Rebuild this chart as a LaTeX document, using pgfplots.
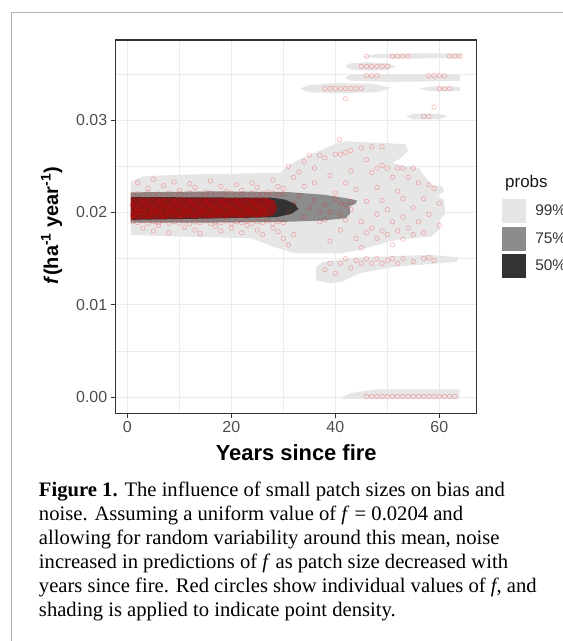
\documentclass[border=0pt]{standalone}
\usepackage{fontspec}
\setmainfont{Liberation Sans}
\newfontfamily\capfont{Liberation Serif}
\usepackage{pgfplots}
\pgfplotsset{compat=1.18}
\definecolor{p99}{HTML}{E6E6E6}
\definecolor{p75}{HTML}{8C8C8C}
\definecolor{p50}{HTML}{333333}
\definecolor{core}{HTML}{8E1515}
\definecolor{gridc}{HTML}{EBEBEB}
\definecolor{tickc}{HTML}{4D4D4D}
\definecolor{framec}{HTML}{B4B4B4}

\begin{document}
\begin{tikzpicture}[x=1bp,y=1bp]
\path[use as bounding box] (0,0) rectangle (563,641);
\draw[framec, line width=1.2bp] (11.7,-2) -- (11.7,628.3) -- (570,628.3);
\begin{axis}[
  at={(115.7bp,227.7bp)}, anchor=south west,
  scale only axis, width=361bp, height=373.3bp,
  xmin=-2.23, xmax=67.2, ymin=-0.00173, ymax=0.03866,
  xtick={0,20,40,60}, xticklabels={0,20,40,60},
  ytick={0,0.01,0.02,0.03}, yticklabels={0.00,0.01,0.02,0.03},
  minor xtick={10,30,50}, minor ytick={0.005,0.015,0.025,0.035},
  scaled y ticks=false,
  grid=both,
  major grid style={gridc, line width=1bp},
  minor grid style={gridc, line width=0.6bp},
  axis line style={p50, line width=1.3bp},
  tick align=outside, tick pos=left,
  major tick length=5bp, minor tick length=0pt,
  tick style={p50, line width=1bp},
  ticklabel style={font=\fontsize{16}{16}\selectfont, text=tickc},
  legend cell align=left,
  legend style={at={(1.0709,0.5733)}, anchor=north west, draw=none, fill=none,
    inner sep=0pt, outer sep=0pt, row sep=3.3bp, column sep=9bp,
    font=\fontsize{15.5}{15.5}\selectfont, text=p50, nodes={inner sep=0pt}},
  legend image code/.code={\fill[#1] (0bp,-12bp) rectangle (24bp,12bp);},
]
% 99% regions
\addplot[fill=p99, draw=none] coordinates {
 (0.69,0.02337) (3.11,0.02391) (10.03,0.02409) (20.4,0.0242) (29.4,0.02428)
 (30.8,0.0250) (32.9,0.02572) (35.6,0.02634) (40.5,0.02754) (42.6,0.02772)
 (44.6,0.02761) (48.8,0.02754) (53.6,0.02736) (54.0,0.02663) (52.2,0.02572)
 (50.9,0.02536) (53.6,0.0250) (56.1,0.02482) (56.7,0.02428) (58.5,0.02301)
 (60.6,0.02283) (60.9,0.02228) (59.5,0.02174) (60.9,0.02138) (61.2,0.01993)
 (60.2,0.0192) (59.9,0.01812) (58.5,0.01739) (51.6,0.01703) (44.6,0.01594)
 (41.2,0.01558) (32.2,0.01558) (28.0,0.0163) (23.9,0.01721) (10.0,0.01739)
 (0.69,0.01757)
} -- cycle;
\addlegendentry{99\%}
\addplot[fill=p99, draw=none, forget plot] coordinates {
 (36.3,0.01413) (37.7,0.01467) (44.6,0.01514) (51.6,0.01529) (58.5,0.0154)
 (63.7,0.01514) (63.3,0.01467) (59.9,0.01449) (51.6,0.01413) (44.6,0.01341)
 (41.2,0.0125) (39.1,0.01232) (36.3,0.01268)
} -- cycle;
\addplot[fill=p99, draw=none, forget plot] coordinates {
 (45.3,0.03690) (48,0.03712) (55,0.03722) (64.4,0.03720) (64.2,0.03672)
 (55,0.03665) (48,0.03670)
} -- cycle;
\addplot[fill=p99, draw=none, forget plot] coordinates {
 (41.9,0.03580) (43,0.03615) (46,0.03625) (50,0.03618) (51.6,0.03580)
 (50,0.03540) (46,0.03533) (43,0.03545)
} -- cycle;
\addplot[fill=p99, draw=none, forget plot] coordinates {
 (41.9,0.03460) (43,0.03490) (50,0.03496) (58,0.03490) (64,0.03485)
 (64,0.03425) (58,0.03418) (50,0.03413) (43,0.03425)
} -- cycle;
\addplot[fill=p99, draw=none, forget plot] coordinates {
 (33.2,0.03340) (35,0.03380) (40,0.03399) (47,0.03392) (50.9,0.03350)
 (48,0.03300) (40,0.03290) (35,0.03300)
} -- cycle;
\addplot[fill=p99, draw=none, forget plot] coordinates {
 (56.1,0.03340) (58,0.03362) (64,0.03362) (64,0.03312) (58,0.03312)
} -- cycle;
\addplot[fill=p99, draw=none, forget plot] coordinates {
 (53.6,0.03040) (55,0.03069) (60,0.03069) (61.6,0.03040) (60,0.03007)
 (55,0.03007)
} -- cycle;
\addplot[fill=p99, draw=none, forget plot] coordinates {
 (41.5,0.00007) (43,0.00045) (44.6,0.0006) (48.0,0.00087) (63.9,0.00087)
 (63.9,-0.00018) (41.5,-0.00018)
} -- cycle;
% 75% region
\addplot[fill=p75, draw=none] coordinates {
 (0.69,0.02217) (17.0,0.02228) (30.8,0.02221) (37.7,0.02192) (41.9,0.02156)
 (44.2,0.0213) (43.9,0.02094) (42.7,0.02065) (42.9,0.01993) (42.0,0.01938)
 (37.7,0.01913) (30.8,0.01899) (17.0,0.01891) (0.69,0.01891)
} -- cycle;
\addlegendentry{75\%}
% 50% region
\addplot[fill=p50, draw=none] coordinates {
 (0.69,0.02167) (28.0,0.02159) (30.4,0.02138) (32.2,0.02094) (32.9,0.02036)
 (31.6,0.01986) (28.7,0.01949) (17.0,0.01935) (0.69,0.0192)
} -- cycle;
\addlegendentry{50\%}
% densest part, where the circles overlap
\addplot[fill=core, draw=none, forget plot] coordinates {
 (0.69,0.02160) (26.5,0.02158) (28.3,0.02130) (28.8,0.02050) (28.2,0.01975)
 (26.5,0.01950) (0.69,0.01925)
} -- cycle;
% individual values
\addplot[only marks, mark=o, mark size=2.3bp, forget plot,
  mark options={draw=red, draw opacity=0.45, line width=0.6bp}] coordinates {
 (1,0.0197) (2,0.0204) (3,0.0211) (4,0.0197) (5,0.0204) (6,0.0211) (7,0.0197)
 (8,0.0204) (9,0.0211) (10,0.0197) (11,0.0204) (12,0.0211) (13,0.0197) (14,0.0204)
 (15,0.0211) (16,0.0197) (17,0.0204) (18,0.0211) (19,0.0197) (20,0.0204) (21,0.0211)
 (22,0.0197) (23,0.0204) (24,0.0211) (25,0.0197) (26,0.0204) (27,0.0211)
 (1,0.0208) (2,0.0200) (3,0.0201) (4,0.0208) (5,0.0200) (6,0.0201) (7,0.0208)
 (8,0.0200) (9,0.0201) (10,0.0208) (11,0.0200) (12,0.0201) (13,0.0208) (14,0.0200)
 (15,0.0201) (16,0.0208) (17,0.0200) (18,0.0201) (19,0.0208) (20,0.0200) (21,0.0201)
 (22,0.0208) (23,0.0200) (24,0.0201) (25,0.0208) (26,0.0200)
};
\addplot[only marks, mark=o, mark size=2.3bp, forget plot,
  mark options={draw=red, draw opacity=0.28, line width=0.6bp}] coordinates {
 (1,0.0219) (2,0.0220) (3,0.0218) (4,0.0221) (5,0.0219) (6,0.0220) (7,0.0218)
 (8,0.0221) (9,0.0219) (10,0.0220) (11,0.0218) (12,0.0221) (13,0.0219) (14,0.0220)
 (15,0.0218) (16,0.0221) (17,0.0219) (18,0.0220) (19,0.0218) (20,0.0221) (21,0.0219)
 (22,0.0220) (23,0.0218) (24,0.0221) (25,0.0219) (26,0.0220) (27,0.0218) (28,0.0221)
 (29,0.0219) (30,0.0220)
 (1,0.0190) (2,0.0189) (3,0.0191) (4,0.0188) (5,0.0190) (6,0.0189) (7,0.0191)
 (8,0.0188) (9,0.0190) (10,0.0189) (11,0.0191) (12,0.0188) (13,0.0190) (14,0.0189)
 (15,0.0191) (16,0.0188) (17,0.0190) (18,0.0189) (19,0.0191) (20,0.0188) (21,0.0190)
 (22,0.0189) (23,0.0191) (24,0.0188) (25,0.0190) (26,0.0189) (27,0.0191) (28,0.0188)
 (29,0.0190) (30,0.0189)
 (2,0.0232) (4,0.0226) (5,0.0236) (7,0.0229) (9,0.0233) (10,0.0224) (12,0.0231)
 (13,0.0227) (15,0.0222) (16,0.0234) (18,0.0228) (19,0.0223) (21,0.0230) (22,0.0224)
 (24,0.0232) (25,0.0227) (27,0.0222) (28,0.0235) (29,0.0228) (30,0.0226)
 (3,0.0183) (5,0.0180) (6,0.0186) (8,0.0178) (11,0.0184) (13,0.0181) (14,0.0177)
 (17,0.0185) (18,0.0180) (20,0.0183) (22,0.0178) (23,0.0186) (25,0.0181) (26,0.0176)
 (28,0.0183) (29,0.0179) (30,0.0172) (31,0.0165) (32,0.0176)
 (31,0.0200) (32,0.0210) (33,0.0218) (34,0.0195) (35,0.0205) (36,0.0213) (37,0.0190)
 (38,0.0208) (39,0.0200) (40,0.0215) (41,0.0197) (42,0.0208) (43,0.0212)
 (31,0.0250) (32,0.0238) (33,0.0244) (34,0.0228) (34,0.0255) (35,0.0262) (36,0.0248)
 (36,0.0232) (37,0.0262) (37,0.0200) (38,0.0192) (38,0.0259) (39,0.0240) (39,0.0169)
 (40,0.0263) (40,0.0221) (41,0.0263) (41,0.0210) (41,0.0181) (42,0.0265) (42,0.0192)
 (42,0.0232) (43,0.0267) (43,0.0245) (43,0.0203) (44,0.0172) (44,0.0225) (45,0.0270)
 (45,0.0190) (45,0.0162) (46,0.0257) (46,0.0212) (46,0.0178) (47,0.0271) (47,0.0243)
 (47,0.0183) (48,0.0248) (48,0.0227) (48,0.0198) (48,0.0172) (49,0.0271) (49,0.0251)
 (49,0.0213) (49,0.0180) (50,0.0248) (50,0.0203) (50,0.0176) (51,0.0238) (51,0.0190)
 (51,0.0165) (52,0.0248) (52,0.0223) (52,0.0180) (53,0.0248) (53,0.0215) (53,0.0195)
 (53,0.0171) (54,0.0238) (54,0.0183) (55,0.0248) (55,0.0205) (55,0.0176) (56,0.0232)
 (56,0.0190) (57,0.0215) (57,0.0178) (58,0.0230) (58,0.0198) (59,0.0226) (60,0.0210)
 (60,0.0186) (40.8,0.0279)
 (38,0.0138) (39,0.0145) (40,0.0134) (41,0.0145) (42,0.0150) (43,0.0140) (44,0.0148)
 (45,0.0145) (46,0.0150) (47,0.0145) (48,0.0150) (49,0.0145) (50,0.0148) (51,0.0150)
 (52,0.0145) (53,0.0150) (55,0.0147) (57,0.0150) (58,0.0151) (59,0.0148)
 (46,0.0369) (51,0.0369) (52,0.0369) (53,0.0369) (54,0.0369) (62,0.0369) (63,0.0369)
 (64,0.0369) (45,0.0358) (46,0.0358) (47,0.0358) (48,0.0358) (49,0.0358) (50,0.0358)
 (46,0.0348) (47,0.0348) (48,0.0348) (58,0.0348) (59,0.0348) (60,0.0348) (61,0.0348)
 (38,0.0334) (39,0.0334) (40,0.0334) (41,0.0334) (42,0.0334) (43,0.0334) (44,0.0334)
 (45,0.0334) (60,0.0334) (61,0.0334) (62,0.0334) (42,0.0323) (59,0.0314) (57,0.0304)
 (58,0.0304)
 (46,0.0001) (47,0.0001) (48,0.0001) (49,0.0001) (50,0.0001) (51,0.0001) (52,0.0001)
 (53,0.0001) (54,0.0001) (55,0.0001) (56,0.0001) (57,0.0001) (58,0.0001) (59,0.0001)
 (60,0.0001) (61,0.0001) (62,0.0001) (63,0.0001)
};
\end{axis}
\node[anchor=base west, font=\fontsize{17}{17}\selectfont, text=black!90] at (501.7,453) {probs};
\node[anchor=base, font=\bfseries\fontsize{22}{22}\selectfont] at (296.2,180) {Years since fire};
\node[rotate=90, anchor=base, font=\bfseries\fontsize{20}{20}\selectfont] at (58,415.5)
  {\textit{f}(ha\textsuperscript{-1} year\textsuperscript{-1})};
\begin{scope}[every node/.style={anchor=base west, inner sep=0pt, font=\capfont\fontsize{20.7}{23.9}\selectfont}]
\node at (38.8,144.3) {\textbf{Figure 1.} The influence of small patch sizes on bias and};
\node at (38.8,120.4) {noise. Assuming a uniform value of \textit{f} = 0.0204 and};
\node at (38.8,96.5) {allowing for random variability around this mean, noise};
\node at (38.8,72.6) {increased in predictions of \textit{f} as patch size decreased with};
\node at (38.8,48.7) {years since fire. Red circles show individual values of \textit{f}, and};
\node at (38.8,24.8) {shading is applied to indicate point density.};
\end{scope}
\end{tikzpicture}
\end{document}
